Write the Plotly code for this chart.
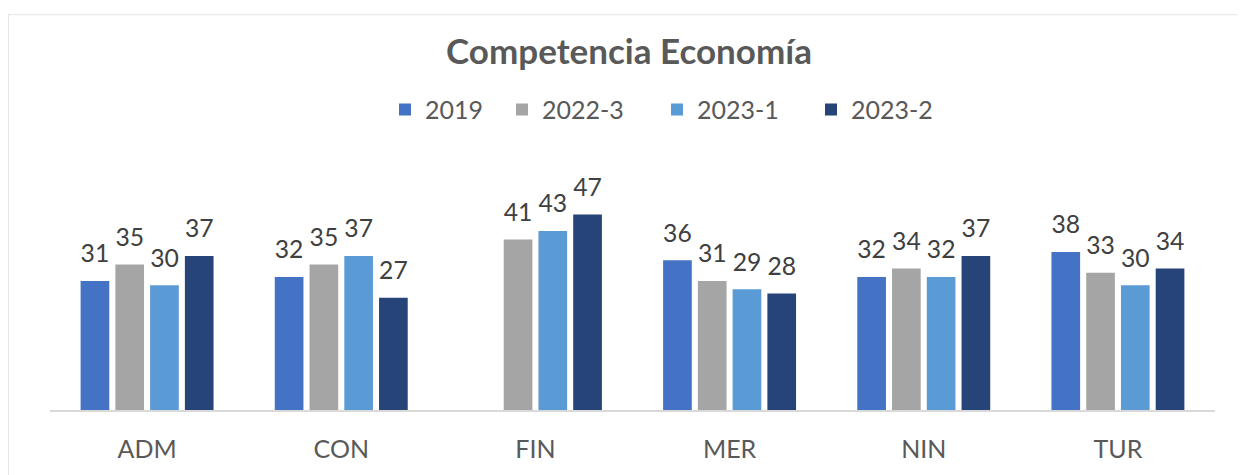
import plotly.graph_objects as go

categories = ["ADM", "CON", "FIN", "MER", "NIN", "TUR"]
series_names = ["2019", "2022-3", "2023-1", "2023-2"]
v2019 = [31, 32, None, 36, 32, 38]
v2022_3 = [35, 35, 41, 31, 34, 33]
v2023_1 = [30, 37, 43, 29, 32, 30]
v2023_2 = [37, 27, 47, 28, 37, 34]
colors = ["#4472C4", "#A5A5A5", "#5B9BD5", "#264478"]

series_values = [v2019, v2022_3, v2023_1, v2023_2]

FONT = "Lato"
LABEL_PAD = 2.4  # data-unit spacing between bar top and its label

# page body has an 8px margin, so figure coordinates are offset by 8px
W, H = 1237, 467
ML, MR, MT, MB = 42, 30, 193.5, 62.5
PW, PH = W - ML - MR, H - MT - MB
BOTTOM = H - MB


def px_x(x):
    return (x - ML) / PW


def px_y(y):
    return (BOTTOM - y) / PH


legend_ids = ["legend", "legend2", "legend3", "legend4"]
legend_left = [377, 494, 649, 803]

fig = go.Figure()
for name, vals, col, lid in zip(series_names, series_values, colors, legend_ids):
    fig.add_trace(go.Bar(
        x=categories, y=vals, name=name, offsetgroup=name, legend=lid,
        marker=dict(color=col, line=dict(width=0)),
    ))
for name, vals in zip(series_names, series_values):
    fig.add_trace(go.Bar(
        x=categories,
        y=[LABEL_PAD if v is not None else None for v in vals],
        base=vals,
        text=[str(v) if v is not None else "" for v in vals],
        textposition="outside", cliponaxis=False,
        textfont=dict(family=FONT, size=26, color="#404040"),
        marker=dict(color="rgba(0,0,0,0)", line=dict(width=0)),
        offsetgroup=name, showlegend=False, hoverinfo="skip",
    ))

legend_layout = {}
for lid, lx in zip(legend_ids, legend_left):
    legend_layout[lid] = dict(
        orientation="h", x=px_x(lx), xanchor="left", y=px_y(100),
        yanchor="middle", font=dict(family=FONT, size=25, color="#595959"),
        bgcolor="rgba(0,0,0,0)",
    )

fig.update_layout(
    width=W, height=H,
    margin=dict(l=ML, r=MR, t=MT, b=MB),
    paper_bgcolor="white", plot_bgcolor="white",
    barmode="group", bargap=0.284, bargroupgap=0.175,
    title=dict(text="<b>Competencia Economía</b>", x=(629 - 8) / W, xanchor="center",
               y=1 - (52 - 8) / H, yanchor="middle",
               font=dict(family=FONT, size=35, color="#595959")),
    xaxis=dict(showline=True, linecolor="#D9D9D9", linewidth=1.5, ticks="",
               ticklabelstandoff=16,
               tickfont=dict(family=FONT, size=25, color="#595959")),
    yaxis=dict(range=[0, 50], visible=False, showgrid=False),
    shapes=[dict(type="rect", xref="paper", yref="paper",
                 x0=px_x(0.5), x1=px_x(1260),
                 y0=px_y(490), y1=px_y(3.5),
                 line=dict(color="#E3E3E3", width=1), fillcolor="rgba(0,0,0,0)",
                 layer="below")],
    **legend_layout,
)

fig.write_html("out.html")
